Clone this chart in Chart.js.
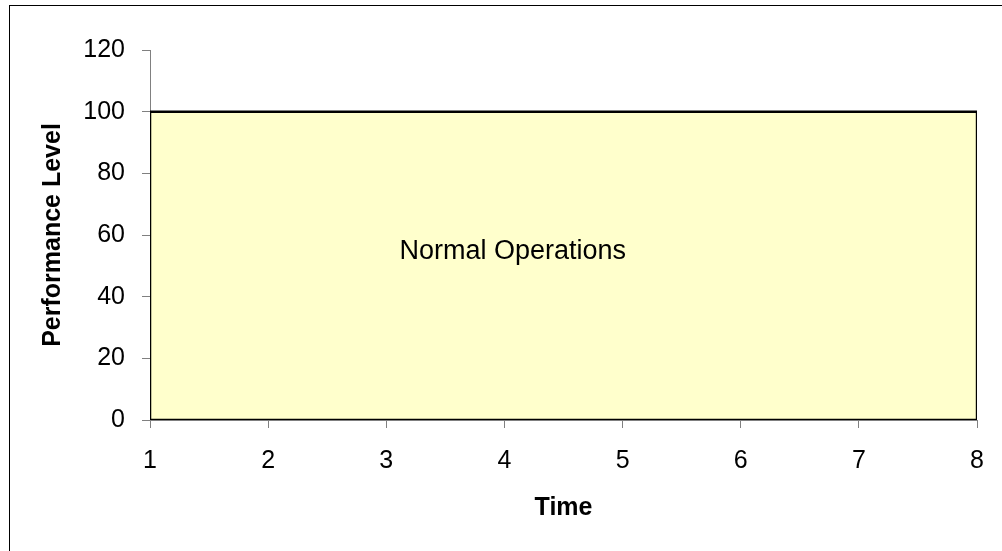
<!DOCTYPE html>
<html>
<head>
<meta charset="utf-8">
<script src="https://cdn.jsdelivr.net/npm/chart.js@4"></script>
<style>
  html, body { margin: 0; padding: 0; background: #fff; }
  #wrap { position: relative; width: 1002px; height: 551px; overflow: hidden; }
  #frame { position: absolute; left: 9px; top: 5px; width: 1100px; height: 700px;
           border-left: 1px solid #000; border-top: 1px solid #000; }
  canvas { position: absolute; left: 0; top: 0; }
</style>
</head>
<body>
<div id="wrap">
  <div id="frame"></div>
  <canvas id="c" width="1002" height="551"></canvas>
</div>
<script>
// Data
const times = [1, 8];
const performance = [100, 100];
const baseline = 0;
const yTicks = [0, 20, 40, 60, 80, 100, 120];
const xTicks = [1, 2, 3, 4, 5, 6, 7, 8];
const regionLabel = 'Normal Operations';
const regionLabelAt = { x: 4.07, y: 54.5 };
const yTitle = 'Performance Level';
const xTitle = 'Time';

// Area (filled down to the baseline) and its closed outline, built from the data
const area = times.map((t, i) => ({ x: t, y: performance[i] }));
const outline = [{ x: times[0], y: baseline }];
times.forEach((t, i) => outline.push({ x: t, y: performance[i] }));
outline.push({ x: times[times.length - 1], y: baseline });
outline.push({ x: times[0], y: baseline });

const FONT = "'Liberation Sans', Arial, sans-serif";

const labelPlugin = {
  id: 'regionLabel',
  afterDatasetsDraw(chart) {
    const { ctx, scales } = chart;
    const px = scales.x.getPixelForValue(regionLabelAt.x);
    const py = scales.y.getPixelForValue(regionLabelAt.y);
    ctx.save();
    ctx.font = "27px " + FONT;
    ctx.fillStyle = '#000';
    ctx.textAlign = 'center';
    ctx.textBaseline = 'middle';
    ctx.fillText(regionLabel, px, py);
    ctx.restore();
  }
};

new Chart(document.getElementById('c'), {
  type: 'scatter',
  data: {
    datasets: [{
      data: area,
      showLine: true,
      fill: 'origin',
      backgroundColor: '#FFFFCC',
      borderColor: 'rgba(0,0,0,0)',
      borderWidth: 0,
      pointRadius: 0,
      order: 2
    }, {
      data: outline,
      showLine: true,
      fill: false,
      borderColor: '#000000',
      borderWidth: 2.5,
      pointRadius: 0,
      order: 1
    }]
  },
  options: {
    responsive: false,
    animation: false,
    layout: { padding: { top: 50, right: 23, left: 0, bottom: 0 } },
    plugins: { legend: { display: false }, tooltip: { enabled: false } },
    scales: {
      x: {
        type: 'linear',
        min: xTicks[0],
        max: xTicks[xTicks.length - 1],
        afterBuildTicks: (s) => { s.ticks = xTicks.map(v => ({ value: v })); },
        afterFit: (s) => { s.height = 131; },
        grid: { drawOnChartArea: false, drawTicks: true, tickLength: 8, color: '#808080', lineWidth: 1 },
        border: { color: '#808080', width: 1 },
        ticks: { color: '#000', font: { family: FONT, size: 25 }, padding: 18, maxRotation: 0 },
        title: { display: true, text: xTitle, color: '#000',
                 font: { family: FONT, size: 25, weight: 'bold' }, padding: { top: 0, bottom: 28 } }
      },
      y: {
        min: yTicks[0],
        max: yTicks[yTicks.length - 1],
        afterBuildTicks: (s) => { s.ticks = yTicks.map(v => ({ value: v })); },
        afterFit: (s) => { s.width = 150; },
        grid: { drawOnChartArea: false, drawTicks: true, tickLength: 8, color: '#808080', lineWidth: 1 },
        border: { color: '#808080', width: 1 },
        ticks: { color: '#000', font: { family: FONT, size: 25 }, padding: 17 },
        title: { display: true, text: yTitle, color: '#000',
                 font: { family: FONT, size: 25, weight: 'bold' }, padding: { top: 38, bottom: 0 } }
      }
    }
  },
  plugins: [labelPlugin]
});
</script>
</body>
</html>
